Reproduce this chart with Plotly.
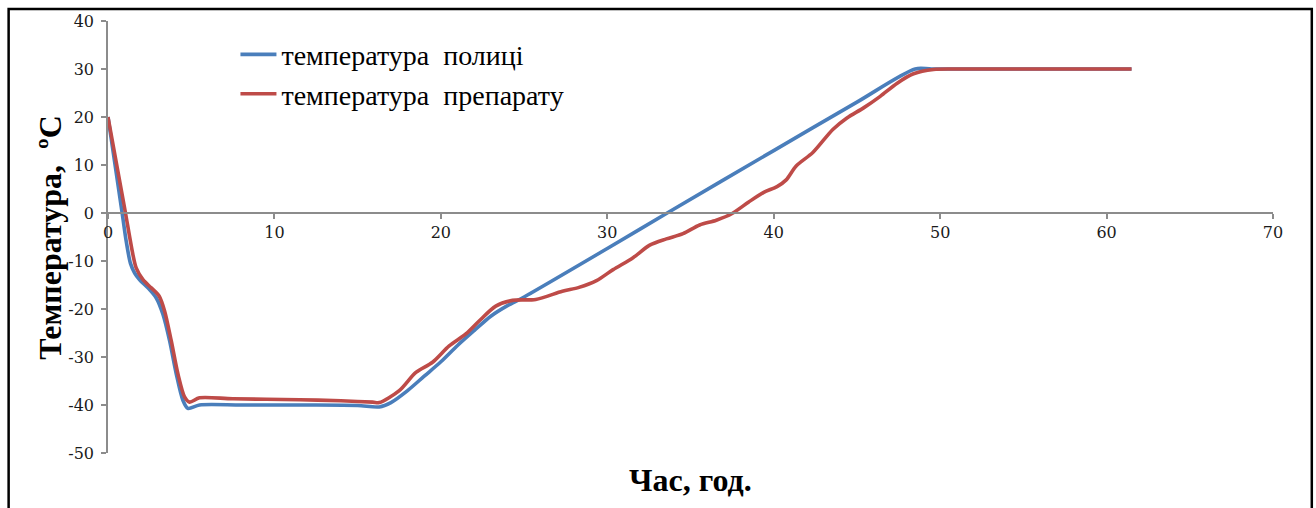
import plotly.graph_objects as go

# Shelf temperature profile (time, h / temperature, °C)
shelf_time = [0, 0.85, 1.1, 1.35, 1.6, 1.9, 2.4, 2.9, 3.3, 3.7, 4.1, 4.5, 4.8, 5.5, 8, 12, 15,
              16.3, 17, 18, 19, 20, 21, 22, 23, 24, 25, 30, 33.6, 40, 45, 48.5, 49.5, 55, 61.5]
shelf_temp = [20, 0, -6, -10.5, -12.5, -13.9, -15.6, -17.7, -21.1, -26.6, -33.5, -39, -40.7, -40,
              -40, -40, -40.1, -40.4, -39.5, -37, -34, -31, -27.6, -24.5, -21.5, -19.3, -17.5,
              -7.4, 0, 13, 23.1, 30, 30, 30, 30]

# Product temperature profile (time, h / temperature, °C)
product_time = [0, 1.0, 1.5, 1.7, 2.1, 2.6, 3.07, 3.4, 3.8, 4.2, 4.6, 4.9, 5.5, 7.5, 11.5, 14,
                15.9, 16.3, 17.5, 18.5, 19.5, 20.5, 21.5, 22.3, 23.3, 24.3, 25.7, 27.3, 28.3,
                29.35, 30.35, 31.55, 32.55, 33.55, 34.55, 35.55, 36.55, 37.5, 38.5, 39.4, 40.2,
                40.75, 41.35, 42.35, 43.55, 44.4, 45.4, 46.4, 47.4, 48.4, 49.6, 51, 61.5]
product_temp = [20, 1, -8.7, -11.5, -13.9, -15.6, -17.3, -20.4, -26.6, -33.5, -38.3, -39.4,
                -38.5, -38.7, -38.9, -39.1, -39.4, -39.5, -37, -33.2, -31.1, -27.7, -25.2,
                -22.5, -19.4, -18.2, -18.0, -16.3, -15.5, -14.1, -11.8, -9.3, -6.7, -5.4, -4.3,
                -2.5, -1.5, -0.1, 2.3, 4.3, 5.5, 6.9, 9.8, 12.6, 17.4, 19.8, 21.9, 24.3, 27.0,
                29.0, 29.9, 30, 30]

series_names = ["температура\u00a0\u00a0полиці", "температура\u00a0\u00a0препарату"]
series_colors = ["#4A7EBB", "#BE4B48"]

x_ticks = [0, 10, 20, 30, 40, 50, 60, 70]
x_ticktext = ["0", "10", "20", "30", "40", "50", "60", "70"]
y_ticks = [40, 30, 20, 10, 0, -10, -20, -30, -40, -50]
y_ticktext = ["40", "30", "20", "10", "0", "-10", "-20", "-30", "-40", "-50"]

x_title = "Час, год."
y_title = "Температура,\u00a0\u00a0ºС"

SERIF = "Liberation Serif, Times New Roman, serif"
TICK_SERIF = "DejaVu Serif, serif"
AXIS_GREY = "#8C8C8C"
TICK_FONT = dict(family=TICK_SERIF, size=16, color="#1a1a1a")

fig = go.Figure()
fig.add_trace(go.Scatter(
    x=shelf_time, y=shelf_temp, mode="lines", name=series_names[0],
    line=dict(color=series_colors[0], width=3.6, shape="spline", smoothing=0.8),
    legendgroup="a",
))
fig.add_trace(go.Scatter(
    x=product_time, y=product_temp, mode="lines", name=series_names[1],
    line=dict(color=series_colors[1], width=3.6, shape="spline", smoothing=0.8),
    legendgroup="b",
))

y_min, y_max = -50, 40
zero_pos = (0 - y_min) / (y_max - y_min)

fig.update_layout(
    width=1316, height=508,
    margin=dict(l=108, r=43, t=17, b=55),
    paper_bgcolor="white", plot_bgcolor="white",
    font=dict(family=SERIF, color="#1a1a1a"),
    showlegend=True,
    legend=dict(
        x=0.1094, y=0.98, xanchor="left", yanchor="top",
        font=dict(family=SERIF, size=28, color="#000000"),
        bgcolor="rgba(0,0,0,0)", traceorder="grouped", tracegroupgap=0,
        itemwidth=36,
    ),
    xaxis=dict(
        range=[0, 70], tickvals=x_ticks, ticktext=x_ticktext,
        anchor="free", position=zero_pos,
        showline=True, linecolor=AXIS_GREY, linewidth=1.5,
        ticks="outside", ticklen=5, tickcolor=AXIS_GREY, tickwidth=1.5,
        showgrid=False, zeroline=False,
        tickfont=TICK_FONT,
    ),
    yaxis=dict(
        range=[y_min, y_max], tickvals=y_ticks, ticktext=y_ticktext,
        domain=[0, 1],
        showline=True, linecolor=AXIS_GREY, linewidth=1.5,
        ticks="outside", ticklen=5, tickcolor=AXIS_GREY, tickwidth=1.5,
        ticklabelstandoff=4,
        showgrid=False, zeroline=False,
        tickfont=TICK_FONT,
    ),
    annotations=[
        dict(text=f"<b>{x_title}</b>", xref="paper", yref="paper", x=0.5, y=-0.063,
             xanchor="center", yanchor="middle", showarrow=False,
             font=dict(family=SERIF, size=32, color="#000000")),
        dict(text=f"<b>{y_title}</b>", xref="paper", yref="paper", x=-0.05, y=0.5,
             xanchor="center", yanchor="middle", showarrow=False, textangle=-90,
             font=dict(family=SERIF, size=32, color="#000000")),
    ],
    shapes=[
        dict(type="rect", xref="paper", yref="paper",
             x0=-0.0853, x1=1.0333, y0=-0.2, y1=1.0276,
             line=dict(color="#000000", width=2.5), fillcolor="rgba(0,0,0,0)", layer="above"),
    ],
)

fig.write_html("out.html")
